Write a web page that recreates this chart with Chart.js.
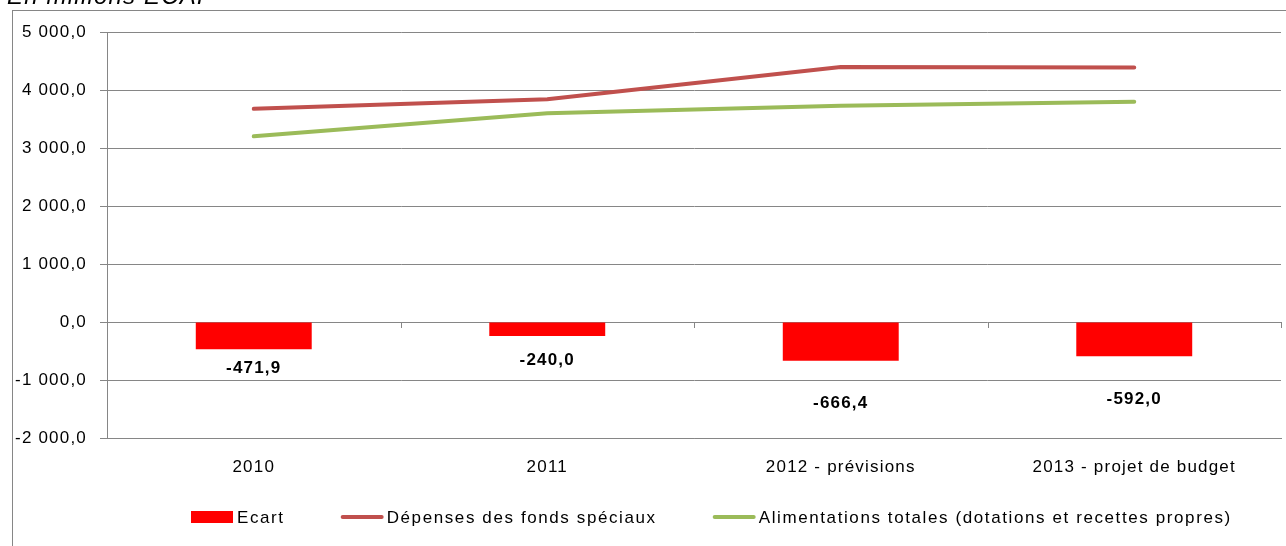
<!DOCTYPE html>
<html lang="fr">
<head>
<meta charset="utf-8">
<title>Ecart - fonds spéciaux</title>
<script src="https://cdn.jsdelivr.net/npm/chart.js@4/dist/chart.umd.min.js"></script>
<style>
  html, body { margin: 0; padding: 0; background: #fff; overflow: hidden; }
  #frame { position: absolute; left: 12px; top: 10px; width: 1300px; height: 600px; border: 1px solid #868686; }
  #chart { position: absolute; left: 0; top: 0; }
</style>
</head>
<body>
<div id="frame"></div>
<canvas id="chart" width="1286" height="546"></canvas>
<script>
// ======================================
// DATA
// ======================================
const categories = ['2010', '2011', '2012 - prévisions', '2013 - projet de budget'];
const ecart = [-471.9, -240.0, -666.4, -592.0];
const depenses = [3675, 3840, 4395, 4390];
const alimentations = [3203, 3600, 3729, 3798];
const yTicks = [-2000, -1000, 0, 1000, 2000, 3000, 4000, 5000];

// ======================================
// HELPERS
// ======================================
function formatFr(v) {
    const neg = v < 0;
    const parts = Math.abs(v).toFixed(1).split('.');
    const intPart = parts[0].replace(/\B(?=(\d{3})+(?!\d))/g, ' ');
    return (neg ? '-' : '') + intPart + ',' + parts[1];
}

const gridColor = '#868686';
const fontFamily = '"Liberation Sans", Arial, sans-serif';
const spacing = '1.2px';

// small ticks on the zero line, data labels, title and legend
const extrasPlugin = {
    id: 'extras',
    beforeUpdate(chart) { chart.ctx.letterSpacing = spacing; },
    beforeDraw(chart) { chart.ctx.letterSpacing = spacing; },
    beforeDatasetsDraw(chart) {
        const ctx = chart.ctx, x = chart.scales.x, y = chart.scales.y;
        const y0 = y.getPixelForValue(0);
        const half = (x.getPixelForValue(1) - x.getPixelForValue(0)) / 2;
        ctx.save();
        ctx.strokeStyle = gridColor; ctx.lineWidth = 1;
        ctx.beginPath();
        for (let i = 0; i < categories.length; i++) {
            const bx = Math.round(x.getPixelForValue(i) + half) + 0.5;
            ctx.moveTo(bx, y0); ctx.lineTo(bx, y0 + 6);
        }
        ctx.stroke();
        ctx.restore();
    },
    afterDatasetsDraw(chart, args, opts) {
        const ctx = chart.ctx;
        ctx.save();
        ctx.letterSpacing = spacing;
        const meta = chart.getDatasetMeta(0);
        ctx.font = 'bold 17px ' + fontFamily;
        ctx.fillStyle = '#000'; ctx.textAlign = 'center'; ctx.textBaseline = 'middle';
        meta.data.forEach((el, i) => {
            ctx.fillText(formatFr(ecart[i]), el.x, el.y + opts.labelOffsets[i]);
        });
        ctx.restore();
    },
    afterDraw(chart) {
        const ctx = chart.ctx;
        ctx.save();
        ctx.letterSpacing = spacing;
        // title (cut at top as in the original)
        ctx.font = 'italic 24px ' + fontFamily;
        ctx.fillStyle = '#000'; ctx.textAlign = 'left'; ctx.textBaseline = 'alphabetic';
        ctx.fillText('En millions ECAP', 7, 4);
        // legend
        ctx.letterSpacing = '1.6px';
        ctx.font = '17px ' + fontFamily;
        ctx.textBaseline = 'middle';
        let lx = 191; const ly = 517;
        chart.data.datasets.forEach((ds) => {
            if (ds.type === 'bar') {
                ctx.fillStyle = ds.backgroundColor;
                ctx.fillRect(lx, ly - 6, 42, 12);
            } else {
                ctx.strokeStyle = ds.borderColor; ctx.lineWidth = 4; ctx.lineCap = 'round';
                ctx.beginPath(); ctx.moveTo(lx + 2, ly); ctx.lineTo(lx + 41, ly); ctx.stroke();
            }
            ctx.fillStyle = '#000';
            ctx.fillText(ds.label, lx + 46, ly + 1);
            lx += 46 + ctx.measureText(ds.label).width + 56;
        });
        ctx.restore();
    }
};

// ======================================
// CHART
// ======================================
document.addEventListener('DOMContentLoaded', function() {
    const ctx = document.getElementById('chart').getContext('2d');
    new Chart(ctx, {
        data: {
            labels: categories,
            datasets: [
                { type: 'bar', label: 'Ecart', data: ecart, backgroundColor: '#FF0000', borderWidth: 0,
                  barPercentage: 0.395, categoryPercentage: 1, order: 3 },
                { type: 'line', label: 'Dépenses des fonds spéciaux', data: depenses, borderColor: '#C0504D',
                  borderWidth: 4, pointRadius: 0, tension: 0, borderCapStyle: 'round', order: 2 },
                { type: 'line', label: 'Alimentations totales (dotations et recettes propres)', data: alimentations,
                  borderColor: '#9BBB59', borderWidth: 4, pointRadius: 0, tension: 0, borderCapStyle: 'round', order: 1 }
            ]
        },
        options: {
            responsive: false, animation: false,
            layout: { padding: { top: 32, right: 5, bottom: 60, left: 0 } },
            scales: {
                x: {
                    offset: true,
                    grid: { display: false },
                    border: { display: true, color: gridColor, width: 1 },
                    ticks: { color: '#000', font: { family: fontFamily, size: 17 }, padding: 11, maxRotation: 0 },
                    afterFit(scale) { scale.height = 48; }
                },
                y: {
                    min: -2000, max: 5000,
                    afterBuildTicks(scale) { scale.ticks = yTicks.map(v => ({ value: v })); },
                    grid: { color: gridColor, lineWidth: 1, tickLength: 7, drawTicks: true },
                    border: { display: true, color: gridColor, width: 1 },
                    ticks: { color: '#000', font: { family: fontFamily, size: 17 }, padding: 13,
                             callback: function(v) { return formatFr(v); } },
                    afterFit(scale) { scale.width = 107; }
                }
            },
            plugins: {
                legend: { display: false },
                tooltip: { enabled: false },
                extras: { labelOffsets: [19, 24, 43, 43] }
            }
        },
        plugins: [extrasPlugin]
    });
});
</script>
</body>
</html>
